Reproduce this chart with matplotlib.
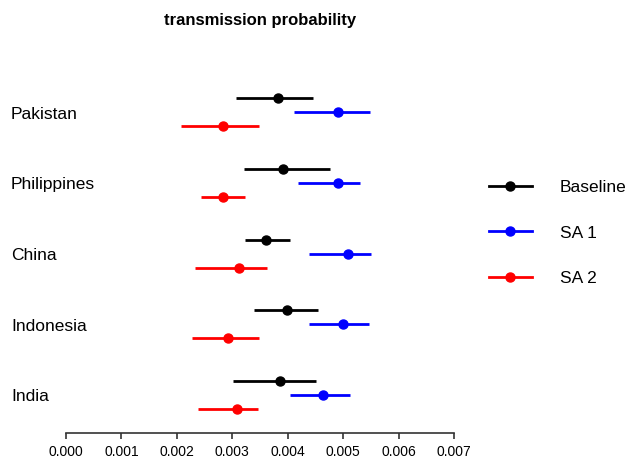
"""
Forest-style plot of transmission probability by country
"""

import numpy as np
import matplotlib.pyplot as plt
from matplotlib.lines import Line2D

plt.rcParams['font.family'] = ['Liberation Sans', 'DejaVu Sans']

# Countries, bottom to top
countries = ['India', 'Indonesia', 'China', 'Philippines', 'Pakistan']

# Point estimates and intervals (same order as countries)
base_mid = [0.00386, 0.00398, 0.00361, 0.00391, 0.00383]
base_lo = [0.00301, 0.00340, 0.00323, 0.00322, 0.00307]
base_hi = [0.00451, 0.00455, 0.00404, 0.00476, 0.00445]

sa1_mid = [0.00464, 0.00499, 0.00509, 0.00491, 0.00490]
sa1_lo = [0.00405, 0.00439, 0.00439, 0.00419, 0.00412]
sa1_hi = [0.00512, 0.00546, 0.00550, 0.00530, 0.00549]

sa2_mid = [0.00308, 0.00292, 0.00313, 0.00284, 0.00284]
sa2_lo = [0.00239, 0.00227, 0.00233, 0.00243, 0.00208]
sa2_hi = [0.00346, 0.00349, 0.00362, 0.00323, 0.00348]

series = [
    ('Baseline', base_mid, base_lo, base_hi, 'black', 0.2),
    ('SA 1', sa1_mid, sa1_lo, sa1_hi, 'blue', 0.0),
    ('SA 2', sa2_mid, sa2_lo, sa2_hi, 'red', -0.2),
]

xticks = [0.000, 0.001, 0.002, 0.003, 0.004, 0.005, 0.006, 0.007]

W, H = 629, 458
fig = plt.figure(figsize=(W / 100, H / 100), dpi=100)
ax = fig.add_axes([66 / W, 1 - 432.7 / H, (454 - 66) / W, (432.7 - 45) / H])

pos = np.arange(len(countries))
handles = []
for label, mid, lo, hi, color, off in series:
    mid = np.array(mid)
    err = [mid - np.array(lo), np.array(hi) - mid]
    ax.errorbar(mid, pos + off, xerr=err, fmt='o', color=color,
                ecolor=color, elinewidth=2.0, markersize=6.5, capsize=0)
    handles.append(Line2D([], [], color=color, lw=2.0, marker='o',
                          markersize=6.5, label=label))

ax.set_xlim(0, 0.007)
ax.set_ylim(-0.534, 4.953)
ax.set_xticks(xticks)
ax.set_xticklabels([f'{t:.3f}' for t in xticks], fontsize=10)
ax.set_yticks([])

for s in ['top', 'right', 'left']:
    ax.spines[s].set_visible(False)
ax.spines['bottom'].set_color('#333333')
ax.spines['bottom'].set_linewidth(1.2)
ax.tick_params(axis='x', length=4.5, width=1.2, color='#333333', pad=4)

# country labels on the left
for p, name in zip(pos, countries):
    fig.text(11 / W, (ax.transData.transform((0, p))[1] - 2) / H, name,
             fontsize=12.5, ha='left', va='center')

fig.text(260 / W, 1 - 20.5 / H, 'transmission probability',
         fontsize=12, fontweight='bold', ha='center', va='center')

fig.legend(handles=handles, loc='center left', frameon=False,
           bbox_to_anchor=(473 / W, 1 - 233 / H), fontsize=12.5,
           handlelength=2.5, handletextpad=1.6, labelspacing=1.75)

plt.savefig('out.png', dpi=100)
